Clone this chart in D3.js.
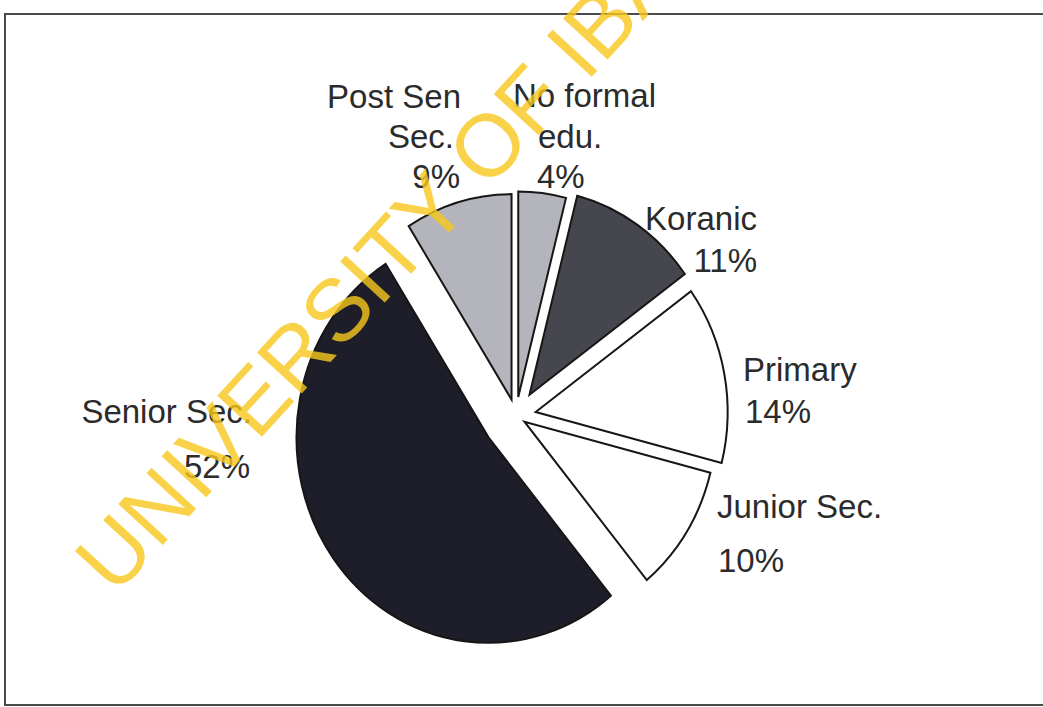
<!DOCTYPE html>
<html lang="en">
  <head>
    <meta charset="UTF-8" />
    <title>Educational attainment pie</title>
    <script src="https://d3js.org/d3.v7.min.js"></script>
    <style>
      body {
        margin: 0;
        background: #ffffff;
      }
      .label {
        font-family: "Liberation Sans", Arial, sans-serif;
        font-size: 33px;
        fill: #2b2b2b;
      }
      .watermark {
        font-family: "Liberation Sans", Arial, sans-serif;
        font-size: 88px;
        fill: #f8c81c;
        opacity: 0.8;
      }
    </style>
  </head>
  <body>
    <svg width="1043" height="707"></svg>

    <script>
      // data (clockwise from 12 o'clock)
      const categories = ["No formal edu.", "Koranic", "Primary", "Junior Sec.", "Senior Sec.", "Post Sen Sec."];
      const percents = [4, 11, 14, 10, 52, 9];

      // styles per slice
      const fills = ["#b4b4bc", "#46464f", "#ffffff", "#ffffff", "#1e1e2a", "#b4b4bc"];
      const explode = [18, 24, 20, 10, 34, 16];

      // label text lines (name split like the original) and hand placement
      const labelLines = [["No formal", "edu."], ["Koranic"], ["Primary"], ["Junior Sec."], ["Senior Sec."], ["Post Sen", "Sec."]];
      const labelLayout = [
        { anchor: "start", x: [513, 538, 537], y: [107, 148, 188] },
        { anchor: "end", x: [757, 757], y: [230, 272] },
        { anchor: "start", x: [743, 745], y: [381, 423] },
        { anchor: "start", x: [717, 718], y: [518, 572] },
        { anchor: "end", x: [252, 250], y: [423, 478] },
        { anchor: "end", x: [461, 454, 460], y: [108, 148, 188] },
      ];

      const svg = d3.select("svg");
      const cx = 516,
        cy = 416,
        r = 192,
        ky = 1.07; // scan is a little taller than wide

      // frame
      svg
        .append("rect")
        .attr("x", 5)
        .attr("y", 14)
        .attr("width", 1060)
        .attr("height", 691)
        .attr("fill", "none")
        .attr("stroke", "#4a4a4a")
        .attr("stroke-width", 2);

      const pie = d3.pie().sort(null).value((d) => d)(percents);
      const arc = d3.arc().innerRadius(0).outerRadius(r);

      const pieG = svg
        .append("g")
        .attr("transform", `translate(${cx},${cy}) scale(1,${ky})`);

      pieG
        .selectAll("path")
        .data(pie)
        .enter()
        .append("path")
        .attr("transform", function (d, i) {
          let mid = (d.startAngle + d.endAngle) / 2;
          return `translate(${Math.sin(mid) * explode[i]},${-Math.cos(mid) * explode[i]})`;
        })
        .attr("d", arc)
        .attr("fill", (d, i) => fills[i])
        .attr("stroke", "#161616")
        .attr("stroke-width", 2)
        .attr("stroke-linejoin", "miter")
        .attr("vector-effect", "non-scaling-stroke");

      // labels: name lines + percent
      categories.forEach(function (c, i) {
        let lines = labelLines[i].concat([percents[i] + "%"]);
        let lay = labelLayout[i];
        let t = svg
          .append("text")
          .attr("class", "label")
          .attr("text-anchor", lay.anchor);
        lines.forEach(function (s, j) {
          t.append("tspan").attr("x", lay.x[j]).attr("y", lay.y[j]).text(s);
        });
      });

      // scanned watermark
      svg
        .append("text")
        .attr("class", "watermark")
        .attr("transform", "translate(115,597) rotate(-47.5)")
        .text("UNIVERSITY OF IBADAN");
    </script>
  </body>
</html>
